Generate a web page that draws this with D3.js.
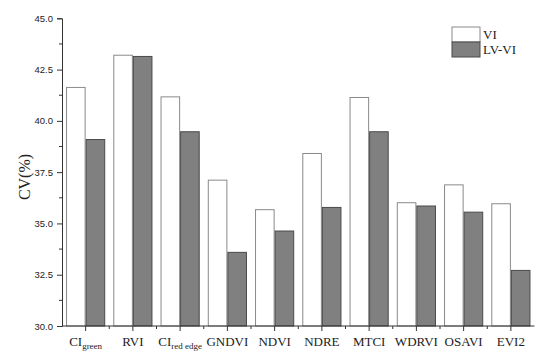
<!DOCTYPE html>
<html><head><meta charset="utf-8">
<script src="https://cdn.jsdelivr.net/npm/d3@7"></script>
<style>body{margin:0;background:#fff}</style>
</head><body>
<svg id="c" width="550" height="360"></svg>
<script>
const categories = ["CI|green","RVI","CI|red edge","GNDVI","NDVI","NDRE","MTCI","WDRVI","OSAVI","EVI2"];
const seriesNames = ["VI","LV-VI"];
const viValues = [41.63,43.20,41.17,37.11,35.67,38.41,41.14,36.01,36.88,35.96];
const lvviValues = [39.09,43.14,39.47,33.59,34.63,35.78,39.47,35.85,35.55,32.71];
const yTicks = [30.0,32.5,35.0,37.5,40.0,42.5,45.0];

const svg = d3.select("#c");
const mLeft = 62, mRight = 534.5, mTop = 18.3, mBottom = 326;
const x = d3.scaleBand().domain(categories).range([mLeft,mRight]).padding(0);
const y = d3.scaleLinear().domain([30,45]).range([mBottom,mTop]);
const xs = d3.scaleBand().domain(seriesNames).range([0,x.bandwidth()]).paddingInner(0).paddingOuter(0.206);

const fills = ["#ffffff","#808080"];
const strokes = ["#8a8a8a","#4a4a4a"];
const data = categories.map((c,i)=>({c, vals:[viValues[i],lvviValues[i]]}));

const g = svg.append("g");
g.selectAll("g.grp").data(data).join("g").attr("class","grp")
 .attr("transform",d=>`translate(${x(d.c)},0)`)
 .selectAll("rect").data(d=>d.vals.map((v,j)=>({v,j}))).join("rect")
 .attr("x",d=>xs(seriesNames[d.j])+0.5)
 .attr("y",d=>y(d.v))
 .attr("width",xs.bandwidth()-1)
 .attr("height",d=>mBottom-y(d.v))
 .attr("fill",d=>fills[d.j])
 .attr("stroke",d=>strokes[d.j])
 .attr("stroke-width",1);

// Y axis
const yAxis = d3.axisLeft(y).tickValues(yTicks).tickFormat(d3.format(".1f")).tickSize(5).tickPadding(4);
const ya = svg.append("g").attr("transform",`translate(${mLeft},0)`).call(yAxis);
ya.selectAll("text").attr("font-family","Liberation Sans, Arial, sans-serif").attr("font-size",9.5).attr("fill","#222");
ya.select(".domain").attr("stroke","#333");
ya.selectAll(".tick line").attr("stroke","#333");
const minorY = d3.range(30+1.25,45,2.5);
svg.append("g").selectAll("line").data(minorY).join("line")
  .attr("x1",mLeft-3).attr("x2",mLeft).attr("y1",d=>y(d)).attr("y2",d=>y(d)).attr("stroke","#333");

// X axis
const xa = svg.append("g").attr("transform",`translate(0,${mBottom})`);
xa.append("line").attr("x1",mLeft).attr("x2",mRight).attr("stroke","#333");
xa.selectAll("line.maj").data(categories).join("line").attr("class","maj")
  .attr("x1",d=>x(d)+x.bandwidth()/2).attr("x2",d=>x(d)+x.bandwidth()/2).attr("y1",0).attr("y2",5).attr("stroke","#333");
xa.selectAll("line.min").data(categories.slice(1)).join("line").attr("class","min")
  .attr("x1",d=>x(d)).attr("x2",d=>x(d)).attr("y1",0).attr("y2",3).attr("stroke","#333");
const lbl = xa.selectAll("text").data(categories).join("text")
  .attr("x",d=>x(d)+x.bandwidth()/2).attr("y",20)
  .attr("text-anchor","middle").attr("font-family","Liberation Serif, Times New Roman, serif")
  .attr("font-size",13).attr("fill","#222");
lbl.each(function(d){
  const parts = d.split("|");
  const t = d3.select(this);
  t.append("tspan").text(parts[0]);
  if(parts[1]) t.append("tspan").attr("font-size",9).attr("dy",3).text(parts[1]);
});

// Y title
svg.append("text").attr("transform","translate(29.5,177) rotate(-90)")
  .attr("text-anchor","middle").attr("font-family","Liberation Serif, Times New Roman, serif")
  .attr("font-size",16).attr("fill","#222").text("CV(%)");

// Legend
const lg = svg.append("g").attr("transform","translate(452,27)");
seriesNames.forEach((s,i)=>{
  lg.append("rect").attr("x",0).attr("y",i*15).attr("width",28).attr("height",15)
    .attr("fill",fills[i]).attr("stroke",strokes[i]);
  lg.append("text").attr("x",31).attr("y",i*15+11.5).attr("font-family","Liberation Serif, Times New Roman, serif")
    .attr("font-size",13).attr("fill","#222").text(s);
});
</script>
</body></html>
